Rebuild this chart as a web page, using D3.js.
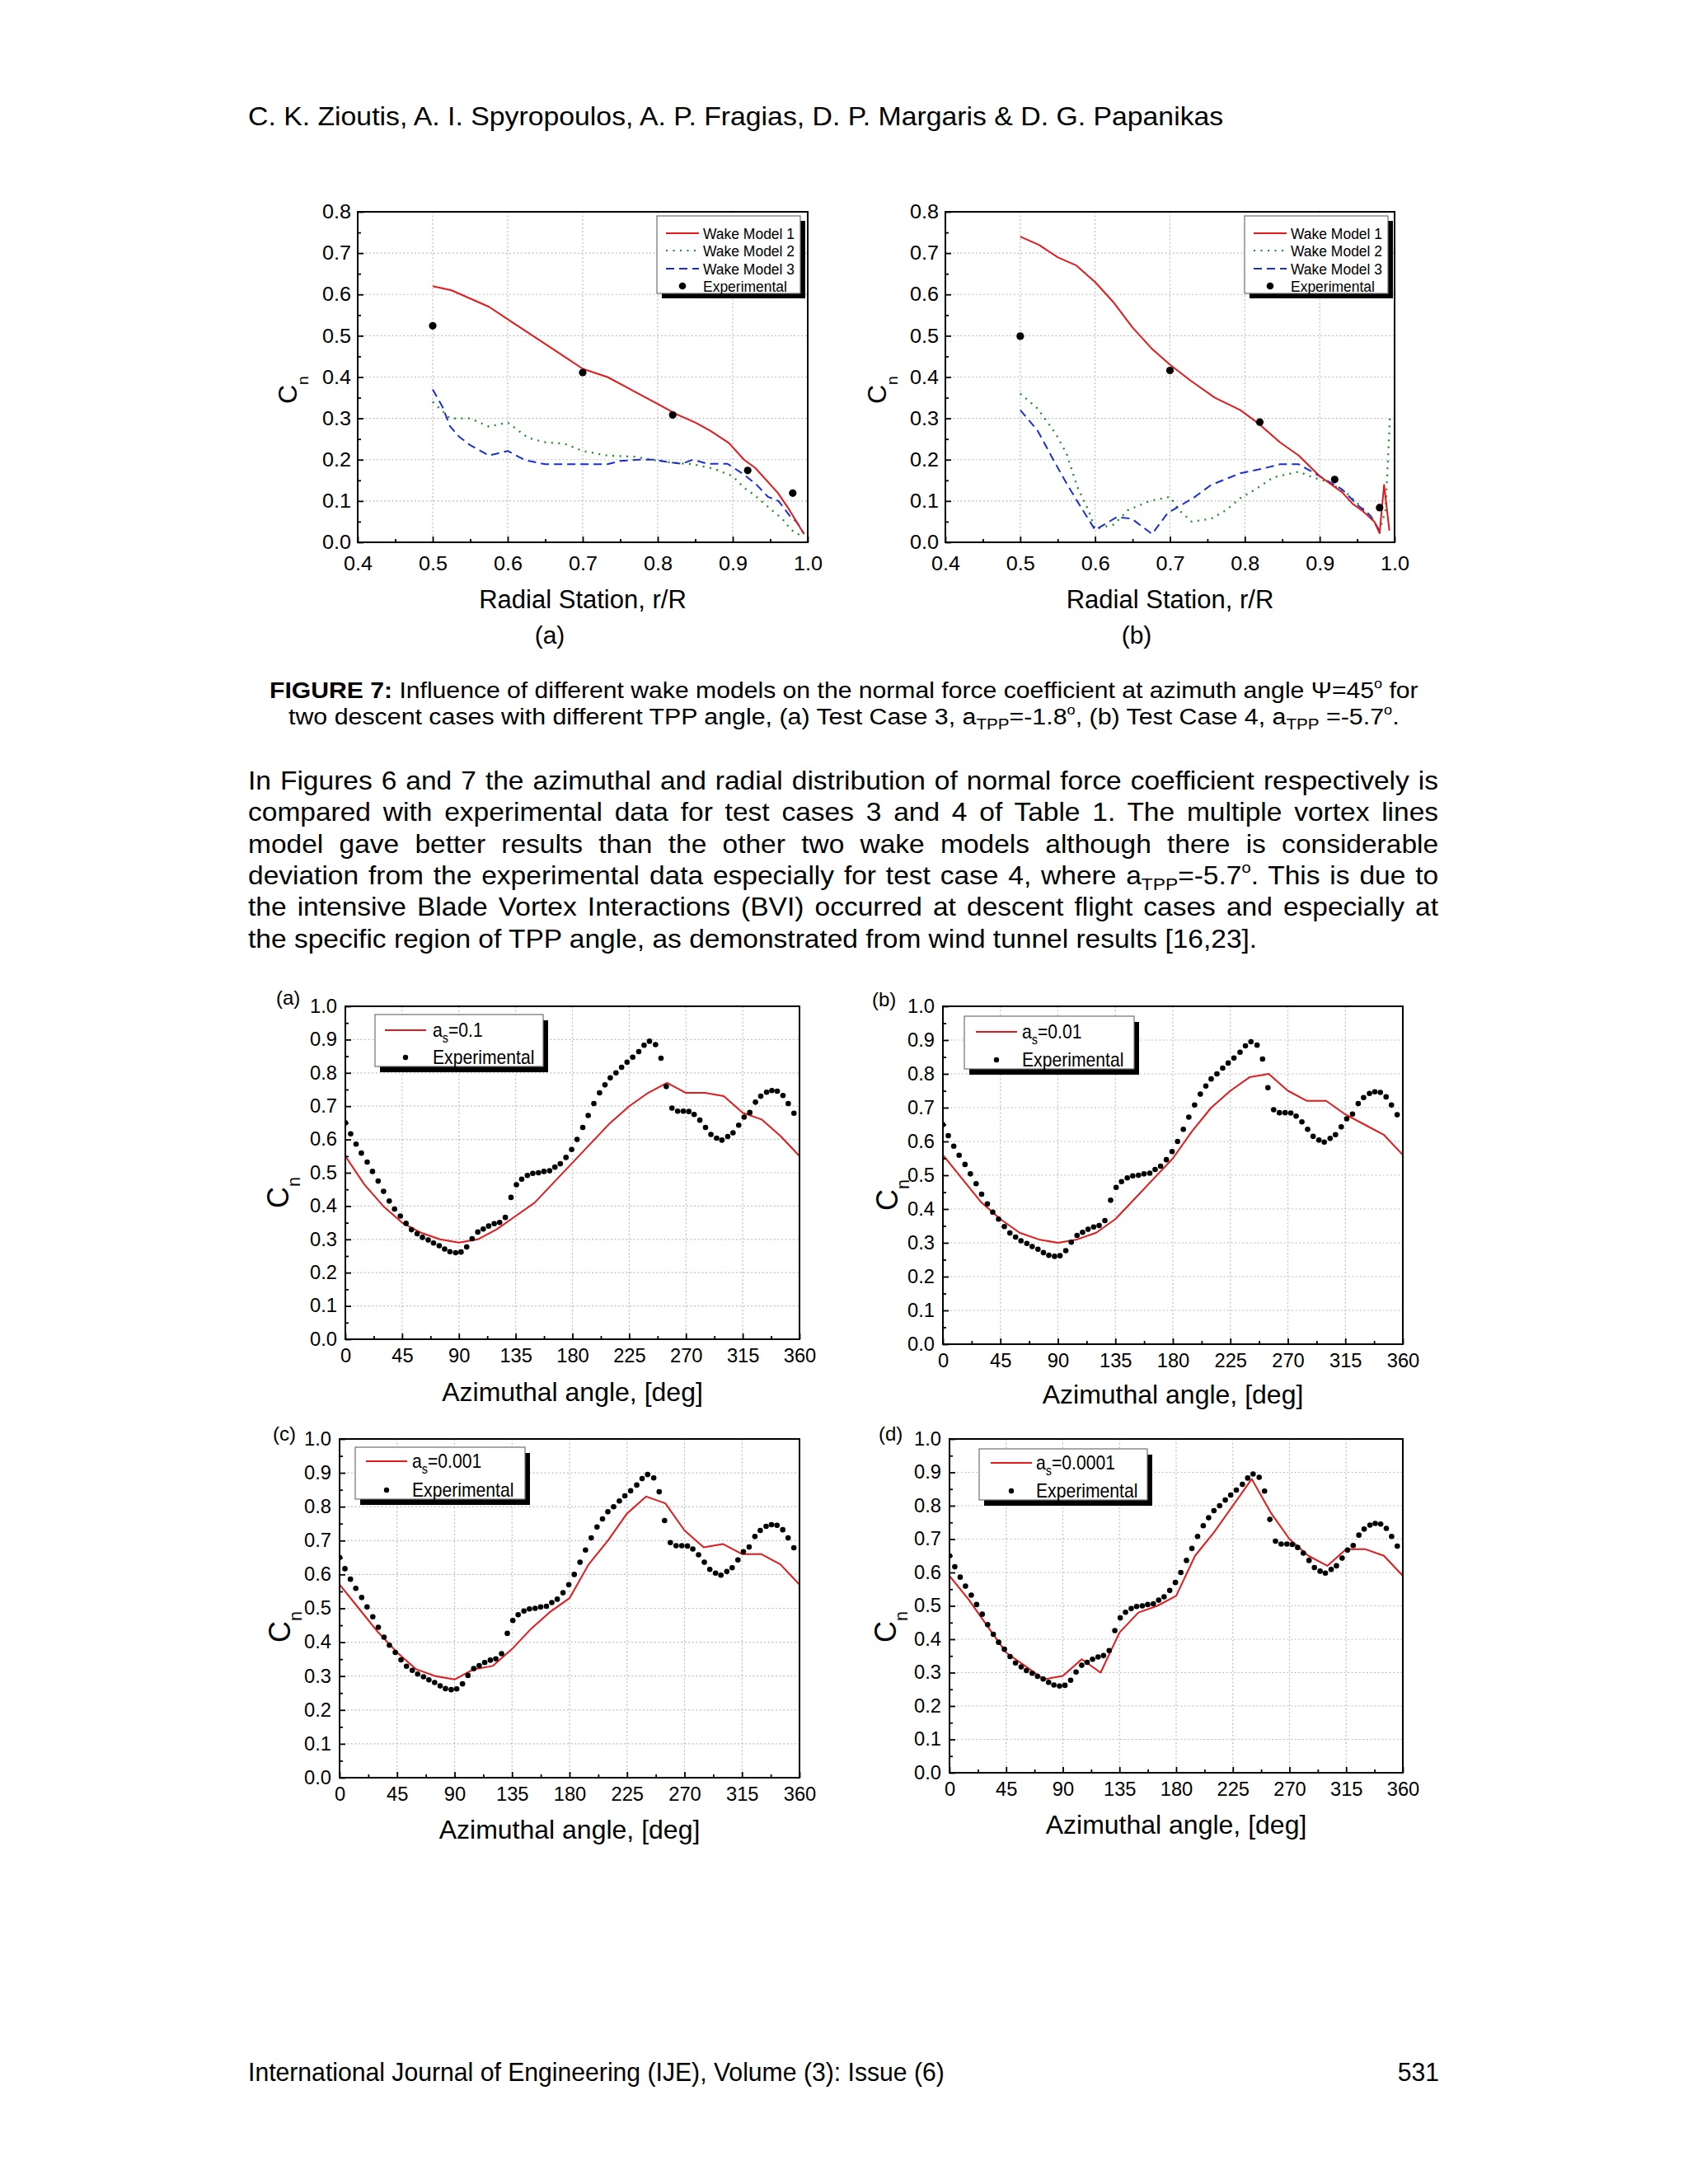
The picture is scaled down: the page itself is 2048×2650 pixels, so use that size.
<!DOCTYPE html>
<html>
<head>
<meta charset="utf-8">
<script src="https://cdn.jsdelivr.net/npm/d3@7"></script>
<style>
  body { margin: 0; background: #ffffff; }
  svg { display: block; }
  text { font-family: "Liberation Sans", Arial, Helvetica, sans-serif; fill: #000; }
</style>
</head>
<body>
<svg id="page" width="2048" height="2650"></svg>
<script>
// ---------------- DATA ----------------
// Figure 7: radial distribution (r/R, Cn)
const radialTicks = [0.4, 0.5, 0.6, 0.7, 0.8, 0.9, 1.0];
const cnTicksTop = [0.0, 0.1, 0.2, 0.3, 0.4, 0.5, 0.6, 0.7, 0.8];

const fig7aWake1 = [[0.5,0.62],[0.525,0.61],[0.55,0.59],[0.575,0.57],[0.6,0.54],[0.625,0.51],[0.65,0.48],[0.675,0.45],[0.7,0.42],[0.733,0.40],[0.767,0.367],[0.8,0.335],[0.825,0.31],[0.85,0.29],[0.87,0.27],[0.895,0.24],[0.915,0.20],[0.93,0.18],[0.96,0.12],[0.975,0.08],[0.995,0.02]];
const fig7aWake2 = [[0.5,0.34],[0.523,0.30],[0.55,0.30],[0.575,0.28],[0.6,0.29],[0.627,0.253],[0.65,0.242],[0.675,0.239],[0.7,0.221],[0.733,0.21],[0.77,0.207],[0.795,0.199],[0.823,0.192],[0.847,0.189],[0.875,0.178],[0.9,0.16],[0.915,0.132],[0.93,0.113],[0.952,0.078],[0.966,0.057],[0.978,0.03],[0.99,0.017],[0.995,0.02]];
const fig7aWake3 = [[0.5,0.37],[0.513,0.328],[0.523,0.281],[0.535,0.256],[0.55,0.235],[0.575,0.21],[0.6,0.221],[0.623,0.199],[0.65,0.189],[0.68,0.189],[0.733,0.189],[0.75,0.197],[0.775,0.2],[0.795,0.2],[0.818,0.193],[0.832,0.19],[0.847,0.2],[0.866,0.19],[0.893,0.19],[0.915,0.164],[0.932,0.139],[0.947,0.11],[0.961,0.10],[0.976,0.064],[0.985,0.05],[0.995,0.021]];
const fig7aExp = [[0.5,0.524],[0.7,0.411],[0.82,0.308],[0.92,0.174],[0.98,0.119]];

const fig7bWake1 = [[0.5,0.74],[0.525,0.72],[0.55,0.69],[0.575,0.67],[0.6,0.63],[0.625,0.58],[0.65,0.52],[0.675,0.47],[0.7,0.43],[0.727,0.392],[0.76,0.35],[0.794,0.32],[0.818,0.288],[0.847,0.242],[0.872,0.21],[0.9,0.16],[0.93,0.121],[0.944,0.093],[0.958,0.075],[0.973,0.05],[0.98,0.022],[0.986,0.139],[0.993,0.028]];
const fig7bWake2 = [[0.5,0.36],[0.523,0.324],[0.547,0.264],[0.562,0.214],[0.576,0.135],[0.591,0.078],[0.6,0.032],[0.625,0.043],[0.644,0.078],[0.673,0.10],[0.7,0.11],[0.712,0.078],[0.729,0.05],[0.755,0.057],[0.775,0.078],[0.794,0.107],[0.814,0.128],[0.838,0.157],[0.862,0.167],[0.872,0.171],[0.891,0.157],[0.911,0.146],[0.935,0.121],[0.964,0.071],[0.98,0.028],[0.988,0.078],[0.994,0.31]];
const fig7bWake3 = [[0.5,0.32],[0.523,0.271],[0.542,0.207],[0.562,0.142],[0.581,0.085],[0.6,0.03],[0.629,0.061],[0.649,0.057],[0.676,0.02],[0.697,0.071],[0.731,0.107],[0.755,0.139],[0.794,0.167],[0.823,0.178],[0.847,0.189],[0.872,0.189],[0.9,0.16],[0.93,0.128],[0.949,0.093],[0.968,0.064],[0.98,0.028]];
const fig7bExp = [[0.5,0.499],[0.7,0.416],[0.82,0.291],[0.92,0.152],[0.98,0.084]];

// Azimuthal distribution
const azTicks = [0, 45, 90, 135, 180, 225, 270, 315, 360];
const cnTicksBottom = [0.0, 0.1, 0.2, 0.3, 0.4, 0.5, 0.6, 0.7, 0.8, 0.9, 1.0];
const azModel = [0,15,30,45,60,75,90,105,120,135,150,165,180,195,210,225,240,255,270,285,300,315,330,345,360];
const cnAs01    = [0.55,0.465,0.40,0.35,0.32,0.30,0.29,0.30,0.33,0.37,0.41,0.47,0.53,0.59,0.65,0.70,0.74,0.77,0.74,0.74,0.73,0.68,0.66,0.61,0.55];
const cnAs001   = [0.56,0.49,0.42,0.37,0.33,0.31,0.30,0.31,0.33,0.37,0.43,0.49,0.55,0.63,0.70,0.75,0.79,0.80,0.75,0.72,0.72,0.68,0.65,0.62,0.56];
const cnAs0001  = [0.57,0.50,0.43,0.37,0.32,0.30,0.29,0.32,0.33,0.38,0.44,0.49,0.53,0.63,0.70,0.78,0.83,0.81,0.73,0.68,0.69,0.66,0.66,0.63,0.57];
const cnAs00001 = [0.59,0.52,0.44,0.36,0.32,0.28,0.29,0.34,0.30,0.42,0.48,0.50,0.53,0.65,0.72,0.80,0.88,0.78,0.70,0.65,0.62,0.67,0.67,0.65,0.59];
const expAngle = [0,4.2,8.5,12.7,17.3,21.5,26,30.3,34.8,39,43.6,48.1,52.4,56.9,61.1,65.7,69.9,74.4,78.7,82.9,87.4,91.7,96.2,100.5,105,109.3,113.6,118,122.3,126.8,131.3,135.6,139.8,144.3,148.6,153.1,157.4,161.9,166.1,170.4,174.9,179.4,183.7,188.2,192.5,197,201.5,205.8,210,214.5,219,223.3,227.8,232.6,236.8,241.1,245.9,250.2,254.4,258.9,263.4,267.9,272.3,276.5,281,285.5,289.8,294.3,298.5,303.1,307.3,311.8,316.1,320.6,325.1,329.3,333.9,338.1,342.4,346.9,351.1,355.6];
const expCn = [0.65,0.617,0.586,0.559,0.532,0.504,0.475,0.444,0.415,0.391,0.370,0.348,0.329,0.317,0.306,0.298,0.289,0.281,0.271,0.263,0.26,0.262,0.277,0.302,0.322,0.331,0.34,0.347,0.351,0.366,0.426,0.464,0.481,0.492,0.498,0.50,0.504,0.506,0.517,0.527,0.546,0.57,0.60,0.636,0.672,0.708,0.74,0.764,0.785,0.80,0.817,0.832,0.847,0.864,0.883,0.895,0.885,0.844,0.759,0.694,0.685,0.685,0.684,0.675,0.658,0.636,0.615,0.604,0.598,0.609,0.62,0.643,0.667,0.681,0.712,0.73,0.742,0.747,0.745,0.732,0.708,0.679];

// ---------------- DRAWING ----------------
const svg = d3.select('#page');
svg.append('rect').attr('width', 2048).attr('height', 2650).attr('fill', '#fff');

const RED = '#e31a1c', GREEN = '#1f8a2a', BLUE = '#1a2ed6';
const zip = (a, b) => a.map((v, i) => [v, b[i]]);
const mids = arr => arr.slice(0, -1).map((v, i) => (v + arr[i + 1]) / 2);

function richText(parent, parts, fs) {
  const t = parent.append('text').attr('font-size', fs);
  let shift = 0;
  parts.forEach(p => {
    if (typeof p === 'string') p = { t: p };
    let target = 0, f = fs;
    if (p.sub) { target = fs * (p.subShift || 0.22); f = fs * 0.68; }
    if (p.sup) { target = -fs * 0.45; f = fs * 0.6; }
    const s = t.append('tspan').text(p.t).attr('font-size', f);
    if (target - shift !== 0) s.attr('dy', target - shift);
    if (p.b) s.attr('font-weight', 'bold');
    shift = target;
  });
  return t;
}

function placeScaled(t, x, y, width, anchor) {
  const w = t.node().getComputedTextLength();
  const s = width / w;
  const x0 = anchor === 'middle' ? x - width / 2 : anchor === 'end' ? x - width : x;
  t.attr('transform', `translate(${x0},${y}) scale(${s},1)`);
  return s;
}

function drawChart(c) {
  const g = svg.append('g');
  const x = d3.scaleLinear().domain(c.xDomain).range([c.left, c.right]);
  const y = d3.scaleLinear().domain(c.yDomain).range([c.bottom, c.top]);
  const clipId = 'clip-' + c.id;
  g.append('clipPath').attr('id', clipId).append('rect')
    .attr('x', c.left).attr('y', c.top).attr('width', c.right - c.left).attr('height', c.bottom - c.top);

  const grid = g.append('g').attr('stroke', '#bdbdbd').attr('stroke-width', 1.2).attr('stroke-dasharray', '2,2.6');
  grid.selectAll('line.gx').data(c.xTicks.slice(1, -1)).join('line').attr('class', 'gx')
    .attr('x1', d => x(d)).attr('x2', d => x(d)).attr('y1', c.top).attr('y2', c.bottom);
  grid.selectAll('line.gy').data(c.yTicks.slice(1, -1)).join('line').attr('class', 'gy')
    .attr('y1', d => y(d)).attr('y2', d => y(d)).attr('x1', c.left).attr('x2', c.right);

  const plot = g.append('g').attr('clip-path', `url(#${clipId})`);
  const line = d3.line().x(d => x(d[0])).y(d => y(d[1]));
  c.lines.forEach(s => {
    plot.append('path').datum(s.data).attr('d', line).attr('fill', 'none')
      .attr('stroke', s.color).attr('stroke-width', s.width)
      .attr('stroke-dasharray', s.dash || null).attr('stroke-linejoin', 'round');
  });
  plot.selectAll('circle').data(c.points).join('circle')
    .attr('cx', d => x(d[0])).attr('cy', d => y(d[1])).attr('r', c.pointR).attr('fill', '#000');

  const gx = g.append('g').attr('transform', `translate(0,${c.bottom})`)
    .call(d3.axisBottom(x).tickValues(c.xTicks).tickFormat(c.xFmt).tickSizeInner(-7).tickSizeOuter(0).tickPadding(c.xPad));
  const gxm = g.append('g').attr('transform', `translate(0,${c.bottom})`)
    .call(d3.axisBottom(x).tickValues(mids(c.xTicks)).tickFormat('').tickSizeInner(-4).tickSizeOuter(0));
  const gy = g.append('g').attr('transform', `translate(${c.left},0)`)
    .call(d3.axisLeft(y).tickValues(c.yTicks).tickFormat(d3.format('.1f')).tickSizeInner(-7).tickSizeOuter(0).tickPadding(c.yPad));
  const gym = g.append('g').attr('transform', `translate(${c.left},0)`)
    .call(d3.axisLeft(y).tickValues(mids(c.yTicks)).tickFormat('').tickSizeInner(-4).tickSizeOuter(0));
  [gx, gxm, gy, gym].forEach(a => {
    a.select('.domain').remove();
    a.selectAll('line').attr('stroke', '#000').attr('stroke-width', 1.8);
    a.selectAll('text').attr('font-family', '"Liberation Sans", Arial, sans-serif')
      .attr('font-size', c.tickFont).attr('fill', '#000')
      .each(function () {
        const w = this.getComputedTextLength();
        if (w > 0) d3.select(this).attr('textLength', w * c.stretch).attr('lengthAdjust', 'spacingAndGlyphs');
      });
  });
  g.append('rect').attr('x', c.left).attr('y', c.top).attr('width', c.right - c.left).attr('height', c.bottom - c.top)
    .attr('fill', 'none').attr('stroke', '#000').attr('stroke-width', 2);

  // x title
  g.append('text').attr('x', (c.left + c.right) / 2).attr('y', c.xTitleY).attr('text-anchor', 'middle')
    .attr('font-size', c.xTitleFont).text(c.xTitle);
  // y title Cn (rotated)
  const yt = g.append('text').attr('transform', `translate(${c.cnX},${c.cnY}) rotate(-90)`).attr('font-size', c.cnFont);
  yt.append('tspan').text('C');
  yt.append('tspan').text('n').attr('font-size', c.cnFont * 0.6).attr('dy', c.cnSubDy);

  // legend
  const L = c.legend;
  const lg = g.append('g');
  lg.append('rect').attr('x', L.x + L.sh[0]).attr('y', L.y + L.sh[1]).attr('width', L.w).attr('height', L.h).attr('fill', '#000');
  lg.append('rect').attr('x', L.x).attr('y', L.y).attr('width', L.w).attr('height', L.h)
    .attr('fill', '#fff').attr('stroke', '#707070').attr('stroke-width', 1.2);
  L.rows.forEach((r, i) => {
    const cy = L.rowY[i];
    if (r.type === 'line') {
      lg.append('line').attr('x1', L.s0).attr('x2', L.s1).attr('y1', cy).attr('y2', cy)
        .attr('stroke', r.color).attr('stroke-width', r.width).attr('stroke-dasharray', r.dash || null);
    } else {
      lg.append('circle').attr('cx', (L.s0 + L.s1) / 2).attr('cy', cy).attr('r', L.r).attr('fill', '#000');
    }
    const t = richText(lg, r.label, L.font).attr('x', L.tx).attr('y', cy + L.font * 0.36);
    if (L.squeeze) {
      const w = t.node().getComputedTextLength();
      t.attr('transform', `translate(${L.tx},0) scale(${L.squeeze},1) translate(${-L.tx},0)`);
    }
  });
}

// ---- Top charts (Figure 7) ----
const topBase = {
  xDomain: [0.4, 1.0], yDomain: [0, 0.8], xTicks: radialTicks, yTicks: cnTicksTop,
  xFmt: d3.format('.1f'), xPad: 17, yPad: 8, tickFont: 24, stretch: 1.05,
  xTitle: 'Radial Station, r/R', xTitleFont: 31, xTitleY: 738, pointR: 4.6,
  cnFont: 32, cnSubDy: 14
};
function wakeLegend(x, y) {
  return {
    x: x, y: y, w: 174, h: 94, sh: [6, 6], s0: x + 11, s1: x + 51, tx: x + 56, font: 19, squeeze: 0.92, r: 4.3,
    rowY: [y + 21, y + 42, y + 64, y + 85],
    rows: [
      { type: 'line', color: RED, width: 2, label: ['Wake Model 1'] },
      { type: 'line', color: GREEN, width: 2.2, dash: '2,6.5', label: ['Wake Model 2'] },
      { type: 'line', color: BLUE, width: 2, dash: '10,6', label: ['Wake Model 3'] },
      { type: 'dot', label: ['Experimental'] }
    ]
  };
}
drawChart(Object.assign({}, topBase, {
  id: 'a7', left: 434, right: 980, top: 257, bottom: 658, cnX: 360, cnY: 490,
  lines: [
    { data: fig7aWake2, color: GREEN, width: 2.3, dash: '2,6.5' },
    { data: fig7aWake3, color: BLUE, width: 2, dash: '10,6' },
    { data: fig7aWake1, color: RED, width: 2 }
  ],
  points: fig7aExp, legend: wakeLegend(797, 262)
}));
drawChart(Object.assign({}, topBase, {
  id: 'b7', left: 1147, right: 1692, top: 257, bottom: 658, cnX: 1075, cnY: 490,
  lines: [
    { data: fig7bWake2, color: GREEN, width: 2.3, dash: '2,6.5' },
    { data: fig7bWake3, color: BLUE, width: 2, dash: '10,6' },
    { data: fig7bWake1, color: RED, width: 2 }
  ],
  points: fig7bExp, legend: wakeLegend(1510, 262)
}));
svg.append('text').attr('x', 667).attr('y', 781).attr('text-anchor', 'middle').attr('font-size', 30).text('(a)');
svg.append('text').attr('x', 1379).attr('y', 781).attr('text-anchor', 'middle').attr('font-size', 30).text('(b)');

// ---- Bottom charts (azimuthal) ----
const expPoints = zip(expAngle, expCn);
const botBase = {
  xDomain: [0, 360], yDomain: [0, 1.0], xTicks: azTicks, yTicks: cnTicksBottom,
  xFmt: d3.format('d'), xPad: 12, yPad: 10, tickFont: 23, stretch: 1.03,
  xTitle: 'Azimuthal angle, [deg]', xTitleFont: 32, pointR: 3.3,
  cnFont: 36, cnSubDy: 14, points: expPoints
};
function asLegend(x, y, w, h, s0, tx, r1, r2, val) {
  return {
    x: x, y: y, w: w, h: h, sh: [6, 7], s0: s0, s1: s0 + 50, tx: tx, font: 23, squeeze: 0.92, r: 3.2,
    rowY: [r1, r2],
    rows: [
      { type: 'line', color: RED, width: 2, label: ['a', { t: 's', sub: true, subShift: 0.3 }, '=' + val] },
      { type: 'dot', label: ['Experimental'] }
    ]
  };
}
const botCharts = [
  { id: 'pa', left: 419, right: 970, top: 1221, bottom: 1625, cnX: 350, cnY: 1466, xTitleY: 1700,
    series: cnAs01, legend: asLegend(455, 1231, 204, 63, 467, 525, 1250, 1283, '0.1'),
    tag: '(a)', tagX: 335, tagY: 1219 },
  { id: 'pb', left: 1144, right: 1702, top: 1221, bottom: 1631, cnX: 1089, cnY: 1469, xTitleY: 1703,
    series: cnAs001, legend: asLegend(1170, 1233, 206, 64, 1184, 1240, 1252, 1286, '0.01'),
    tag: '(b)', tagX: 1058, tagY: 1221 },
  { id: 'pc', left: 412, right: 970, top: 1746, bottom: 2157, cnX: 352, cnY: 1993, xTitleY: 2231,
    series: cnAs0001, legend: asLegend(431, 1756, 206, 63, 444, 500, 1773, 1808, '0.001'),
    tag: '(c)', tagX: 331, tagY: 1748 },
  { id: 'pd', left: 1152, right: 1702, top: 1746, bottom: 2151, cnX: 1087, cnY: 1993, xTitleY: 2225,
    series: cnAs00001, legend: asLegend(1188, 1758, 204, 62, 1202, 1257, 1775, 1809, '0.0001'),
    tag: '(d)', tagX: 1066, tagY: 1748 }
];
botCharts.forEach(b => {
  drawChart(Object.assign({}, botBase, b, {
    lines: [{ data: zip(azModel, b.series), color: RED, width: 2 }]
  }));
  svg.append('text').attr('x', b.tagX).attr('y', b.tagY).attr('font-size', 24).text(b.tag);
});

// ---------------- PAGE TEXT ----------------
const header = richText(svg, ['C. K. Zioutis, A. I. Spyropoulos, A. P. Fragias, D. P. Margaris & D. G. Papanikas'], 31);
placeScaled(header, 301, 152, 1184, 'start');

const cap1 = richText(svg, [{ t: 'FIGURE 7:', b: true }, ' Influence of different wake models on the normal force coefficient at azimuth angle \u03A8=45', { t: 'o', sup: true }, ' for'], 27);
placeScaled(cap1, 1024, 847, 1394, 'middle');
const cap2 = richText(svg, ['two descent cases with different TPP angle, (a) Test Case 3, a', { t: 'TPP', sub: true }, '=-1.8', { t: 'o', sup: true }, ', (b) Test Case 4, a', { t: 'TPP', sub: true }, ' =-5.7', { t: 'o', sup: true }, '.'], 27);
placeScaled(cap2, 1024, 879, 1348, 'middle');

const paraLines = [
  ['In Figures 6 and 7 the azimuthal and radial distribution of normal force coefficient respectively is'],
  ['compared with experimental data for test cases 3 and 4 of Table 1. The multiple vortex lines'],
  ['model gave better results than the other two wake models although there is considerable'],
  ['deviation from the experimental data especially for test case 4, where a', { t: 'TPP', sub: true }, '=-5.7', { t: 'o', sup: true }, '. This is due to'],
  ['the intensive Blade Vortex Interactions (BVI) occurred at descent flight cases and especially at'],
  ['the specific region of TPP angle, as demonstrated from wind tunnel results [16,23].']
];
const PARA_FONT = 31;
const lastLine = richText(svg, paraLines[5], PARA_FONT);
const paraScale = placeScaled(lastLine, 301, 958 + 38.3 * 5, 1225, 'start');
paraLines.slice(0, 5).forEach((parts, i) => {
  const t = richText(svg, parts, PARA_FONT);
  const w = t.node().getComputedTextLength();
  const nSpaces = (t.text().match(/ /g) || []).length;
  const ws = (1445 / paraScale - w) / nSpaces;
  t.attr('word-spacing', ws);
  t.attr('transform', `translate(301,${958 + 38.3 * i}) scale(${paraScale},1)`);
});

const footer = richText(svg, ['International Journal of Engineering (IJE), Volume (3): Issue (6)'], 31);
const footScale = placeScaled(footer, 301, 2525, 845, 'start');
const pageNo = richText(svg, ['531'], 31);
const pw = pageNo.node().getComputedTextLength() * footScale;
placeScaled(pageNo, 1746, 2525, pw, 'end');
</script>
</body>
</html>
